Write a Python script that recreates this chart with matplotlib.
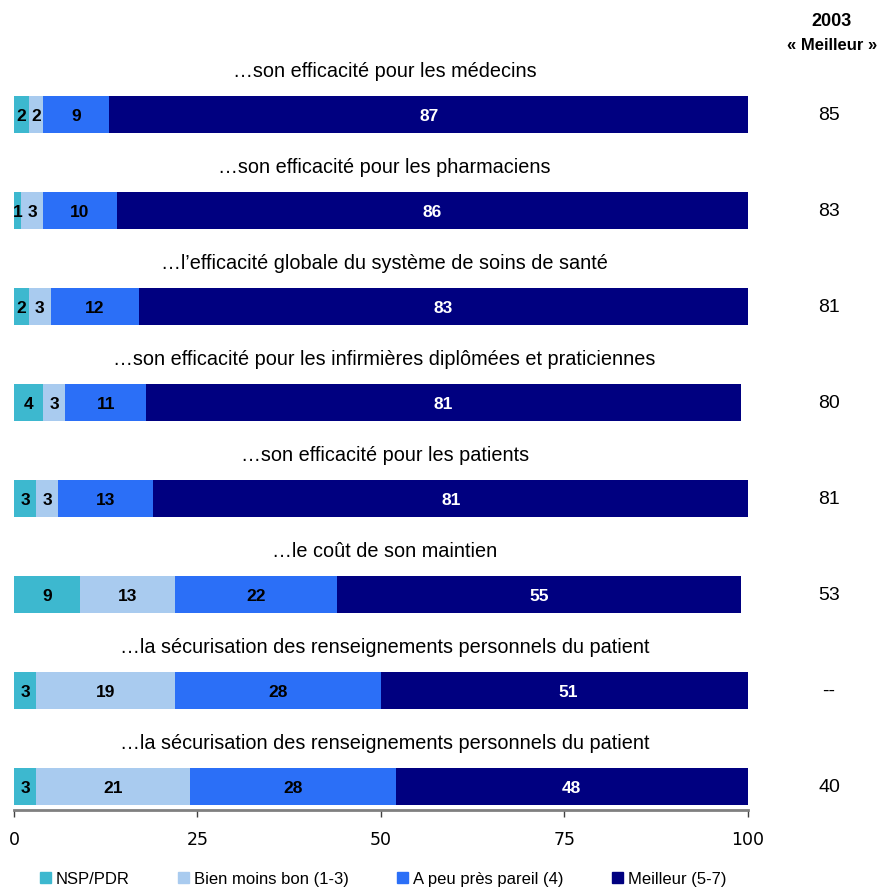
import numpy as np
import matplotlib.pyplot as plt
from matplotlib.patches import Patch

# data
titles = [
    "\u2026son efficacité pour les médecins",
    "\u2026son efficacité pour les pharmaciens",
    "\u2026l\u2019efficacité globale du système de soins de santé",
    "\u2026son efficacité pour les infirmières diplômées et praticiennes",
    "\u2026son efficacité pour les patients",
    "\u2026le coût de son maintien",
    "\u2026la sécurisation des renseignements personnels du patient",
    "\u2026la sécurisation des renseignements personnels du patient",
]
nsp = [2, 1, 2, 4, 3, 9, 3, 3]
moins_bon = [2, 3, 3, 3, 3, 13, 19, 21]
pareil = [9, 10, 12, 11, 13, 22, 28, 28]
meilleur = [87, 86, 83, 81, 81, 55, 51, 48]
meilleur_2003 = ["85", "83", "81", "80", "81", "53", "--", "40"]

series = [nsp, moins_bon, pareil, meilleur]
names = ["NSP/PDR", "Bien moins bon (1-3)", "A peu près pareil (4)", "Meilleur (5-7)"]
colors = ["#3db8cf", "#a9cbef", "#2b6ff7", "#000080"]
txt_colors = ["black", "black", "black", "white"]

plt.rcParams['font.family'] = ['Liberation Sans', 'DejaVu Sans']

fig = plt.figure(figsize=(8.78, 8.88), dpi=100)
ax = fig.add_axes([14/878, 78/888, 734/878, 770/888])

y = np.arange(len(titles))
left = np.zeros(len(titles))
for vals, col, tc in zip(series, colors, txt_colors):
    vals = np.array(vals)
    ax.barh(y, vals, left=left, height=0.385, color=col)
    for yi, l, v in zip(y, left, vals):
        ax.text(l + v/2, yi + 0.02, str(v), ha='center', va='center',
                fontsize=12.5, fontweight='bold', color=tc)
    left = left + vals

for yi, t in zip(y, titles):
    ax.text(50.5, yi - 0.45, t, ha='center', va='center', fontsize=14.3)

ax.set_xlim(0, 100)
ax.set_ylim(7.24, -0.78)
ax.set_xticks([0, 25, 50, 75, 100])
ax.set_yticks([])
for s in ['top', 'right', 'left']:
    ax.spines[s].set_visible(False)
ax.spines['bottom'].set_color('#808080')
ax.spines['bottom'].set_linewidth(2)
ax.tick_params(axis='x', length=5, width=1, color='#404040', pad=10)
for lab in ax.get_xticklabels():
    lab.set_family(['Liberation Sans Narrow', 'DejaVu Sans'])
    lab.set_fontsize(12.5)

# 2003 column
fig.text(832/878, 1 - 21/888, "2003", ha='center', va='center', fontsize=13, fontweight='bold')
fig.text(832/878, 1 - 46/888, "« Meilleur »", ha='center', va='center', fontsize=12, fontweight='bold')
for yi, v in zip(y, meilleur_2003):
    fig.text(829/878, 1 - (115 + 96*yi)/888, v, ha='center', va='center', fontsize=14)

handles = [Patch(color=c, label=n) for c, n in zip(colors, names)]
fig.legend(handles=handles, loc='center left', bbox_to_anchor=(40/878, 1 - 879/888),
           ncol=4, frameon=False, fontsize=12, handlelength=0.65, handleheight=0.65,
           handletextpad=0.3, columnspacing=2.9, borderaxespad=0, borderpad=0)

fig.savefig("out.png", dpi=100)
